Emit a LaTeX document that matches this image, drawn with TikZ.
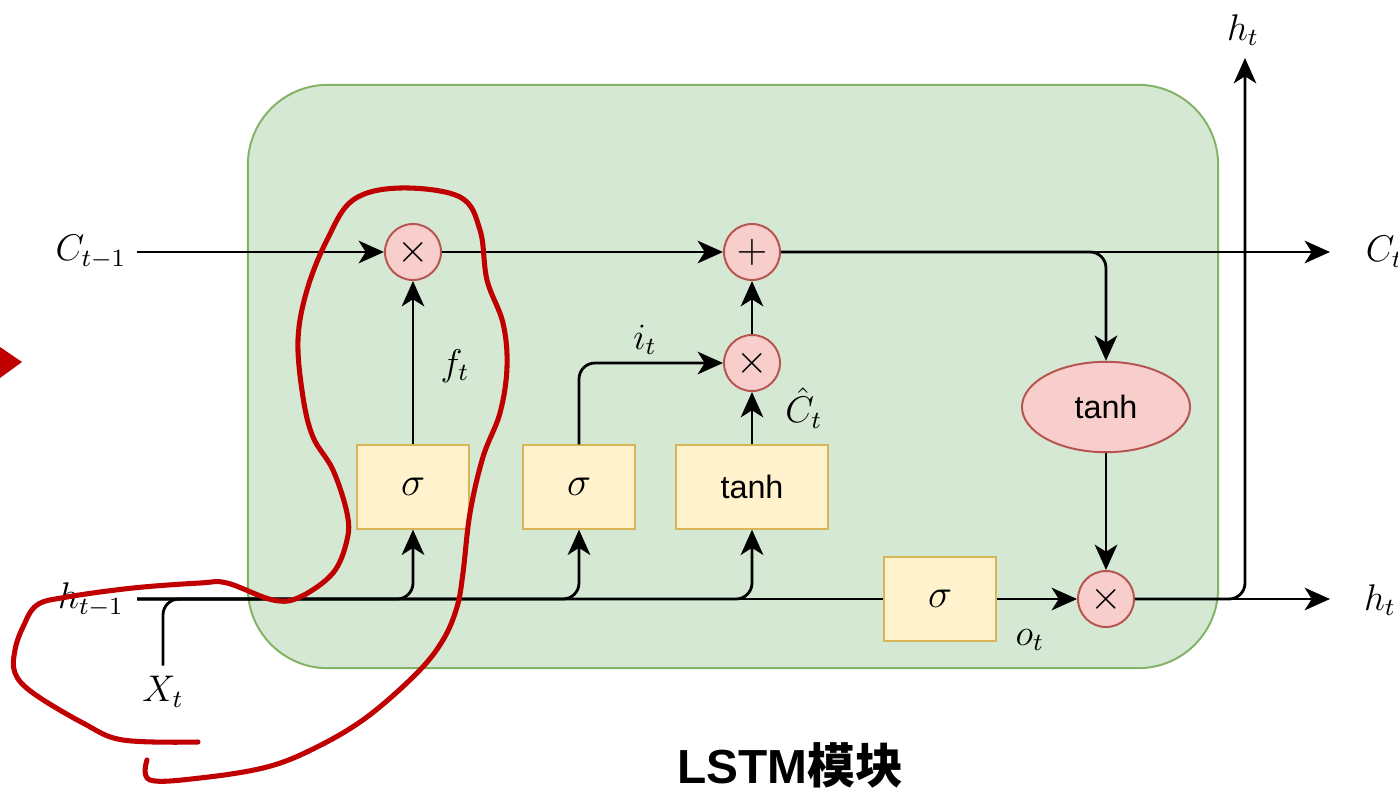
\documentclass[tikz,border=0pt]{standalone}
\usepackage{fontspec}
\newfontfamily\labelfont{Liberation Sans}
\newfontfamily\cjkfont{Noto Sans CJK SC}
\usetikzlibrary{arrows.meta, shapes.geometric}

\definecolor{cellfill}{HTML}{D5E8D4}
\definecolor{cellline}{HTML}{82B366}
\definecolor{gatefill}{HTML}{FFF2CC}
\definecolor{gateline}{HTML}{D6B656}
\definecolor{opfill}{HTML}{F8CECC}
\definecolor{opline}{HTML}{B85450}
\definecolor{annotred}{HTML}{C00000}

\begin{document}
\begin{tikzpicture}[
    x=0.0125cm, y=-0.0125cm,
    every node/.style={font=\large},
    lbl/.style={scale=1.1},
    sans/.style={font=\labelfont\fontsize{11.5}{13}\selectfont},
    cell/.style={
        draw=cellline,
        fill=cellfill,
        line width=0.7pt,
        rounded corners=1cm,
        minimum width=12.125cm,
        minimum height=7.29cm
    },
    gate/.style={
        draw=gateline,
        fill=gatefill,
        line width=0.7pt,
        minimum width=1.39cm,
        minimum height=1.04cm,
        inner sep=0pt
    },
    widegate/.style={gate, minimum width=1.9cm},
    op/.style={
        circle,
        draw=opline,
        fill=opfill,
        line width=0.7pt,
        minimum size=0.7cm,
        inner sep=0pt
    },
    act/.style={
        ellipse,
        draw=opline,
        fill=opfill,
        line width=0.7pt,
        minimum width=2.1cm,
        minimum height=1.13cm,
        inner sep=0pt
    },
    line/.style={line width=1pt, rounded corners=0.2cm},
    arrow/.style={line, -{Stealth[length=9pt, width=8pt, inset=2.5pt]}},
    annot/.style={draw=annotred, line width=1.8pt, line cap=round, line join=round}
]

\useasboundingbox (0,0) rectangle (1398,791);

\node[cell] (cell) at (733,376.5) {};

\node[gate] (fg) at (413,487) {\Large$\sigma$};
\node[gate] (ig) at (579,487) {\Large$\sigma$};
\node[widegate, sans] (cg) at (752,487) {tanh};
\node[gate] (og) at (940,599) {\Large$\sigma$};

\node[op] (fm) at (413,252) {\Large$\times$};
\node[op] (add) at (752,252) {\Large$+$};
\node[op] (im) at (752,363) {\Large$\times$};
\node[act, sans] (th) at (1106,407) {tanh};
\node[op] (om) at (1106,599) {\Large$\times$};

\node[lbl] (cprev) at (91,252) {$C_{t-1}$};
\node[lbl] (hprev) at (91,600) {$h_{t-1}$};
\node[lbl] (xt) at (163,692) {$X_t$};
\node[lbl] (ft) at (455,366) {$f_t$};
\node[lbl] (it) at (645,340) {$i_t$};
\node[lbl] (chat) at (804,408) {$\hat{C}_t$};
\node[lbl] (ot) at (1030,640) {$o_t$};
\node[lbl] (hup) at (1243,30) {$h_t$};
\node[lbl] (hnext) at (1380,600) {$h_t$};
\node[lbl, anchor=west] (cnext) at (1355,252) {$C_t$};

\coordinate (cin) at (137,252);
\coordinate (hin) at (137,599);
\coordinate (cout) at (1330,252);
\coordinate (hout) at (1330,599);
\coordinate (htop) at (1245,58);
\coordinate (xjoin) at (260,599);

\draw[arrow] (cin) -- (fm);
\draw[arrow] (fm) -- (add);
\draw[arrow] (add) -- (cout);
\draw[arrow] (add) -| (th);
\draw[arrow] (fg) -- (fm);
\draw[arrow] (hin) -| (fg);
\draw[arrow] (hin) -| (ig);
\draw[arrow] (hin) -| (cg);
\draw[line] (hin) -- (og);
\draw[line] (xt) |- (xjoin);
\draw[arrow] (ig) |- (im);
\draw[arrow] (cg) -- (im);
\draw[arrow] (im) -- (add);
\draw[arrow] (th) -- (om);
\draw[arrow] (og) -- (om);
\draw[arrow] (om) -- (hout);
\draw[arrow] (om) -| (htop);

\node[font=\labelfont\bfseries\fontsize{17}{20}\selectfont] (title) at (790,765) {LSTM{\cjkfont\bfseries 模块}};

\fill[annotred] (0,347) -- (22,362) -- (0,378) -- cycle;
\draw[annot] plot[smooth, tension=0.6] coordinates {(198,742) (123,740) (83,723) (33,693) (15,673) (15,650) (23,627) (37,605) (67,597) (133,588) (200,583) (227,583) (273,600) (300,597) (333,573) (347,540) (347,513) (333,470) (313,437) (303,397) (298,340) (307,290) (327,240) (353,200) (400,188) (460,197) (480,230) (487,280) (503,323) (507,367) (500,413) (483,457) (470,513) (463,573) (457,607) (443,640) (417,673) (367,717) (317,747) (267,767) (200,778) (150,780) (147,760)};

\end{tikzpicture}
\end{document}
